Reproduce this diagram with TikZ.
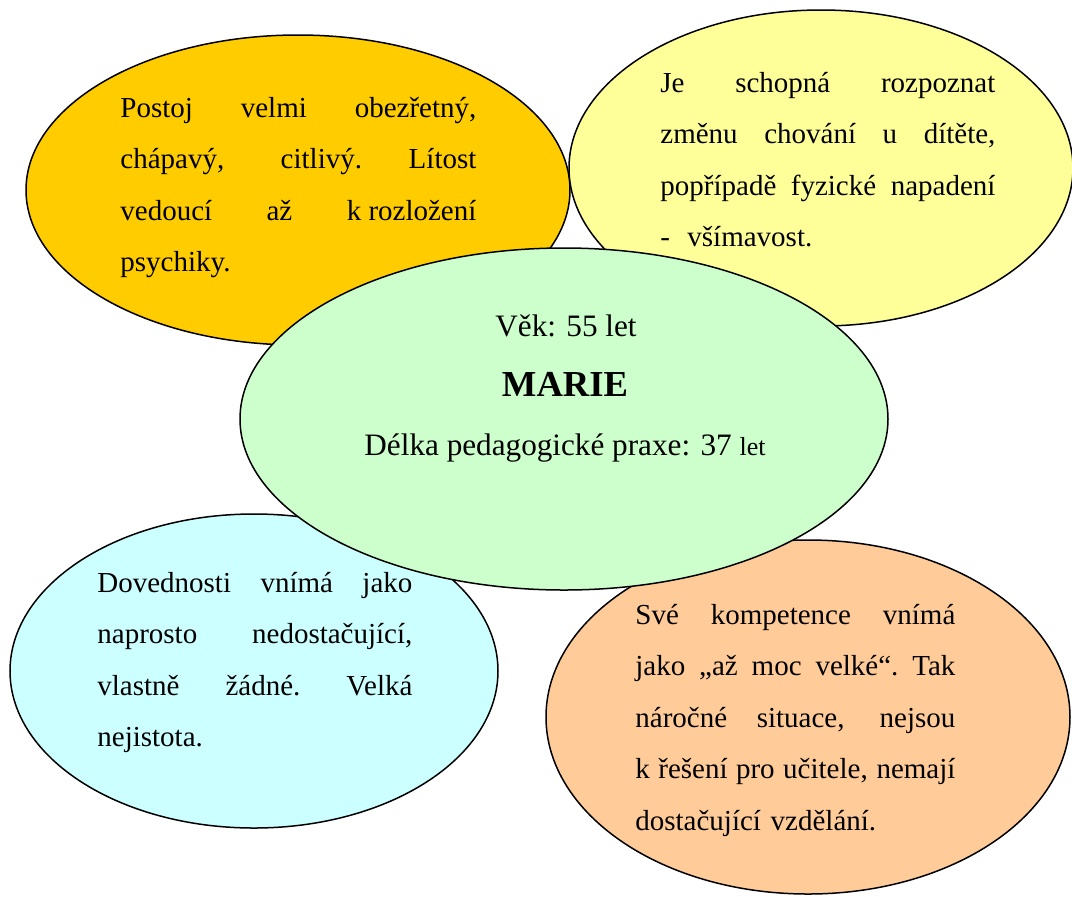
\documentclass[tikz,border=0pt]{standalone}
\usepackage{fontspec}
\setmainfont{Liberation Serif}
\usetikzlibrary{shapes.geometric}

\definecolor{postojfill}{HTML}{FFCC00}
\definecolor{schopnafill}{HTML}{FFFF99}
\definecolor{mariefill}{HTML}{CCFFCC}
\definecolor{dovednostifill}{HTML}{CCFFFF}
\definecolor{kompetencefill}{HTML}{FFCC99}

% one justified line of a bubble text
\newlength{\bubblewidth}
\newcommand{\fullline}[1]{\leavevmode\hbox to\bubblewidth{\spaceskip=0.25em plus 1fil\xspaceskip=\spaceskip #1}}

\tikzset{
	bubble/.style={ellipse, draw=black, line width=0.75pt, inner sep=0pt},
	bubbletext/.style={anchor=base west, inner sep=0pt, align=left, text width=#1,
		execute at begin node={\setlength{\bubblewidth}{#1}},
		font=\fontsize{14.5}{25.75}\selectfont},
	centertext/.style={anchor=base, inner sep=0pt, font=\fontsize{15.6}{18}\selectfont}
}

\begin{document}
\begin{tikzpicture}[x=0.5pt,y=-0.5pt]
	\useasboundingbox (0,0) rectangle (1072,896);
	% the bubbles
	\node[bubble, fill=postojfill, minimum width=272pt, minimum height=155pt] (postoj) at (298,190) {};
	\node[bubble, fill=schopnafill, minimum width=252pt, minimum height=158pt] (schopna) at (821,168) {};
	\node[bubble, fill=dovednostifill, minimum width=244pt, minimum height=157pt] (dovednosti) at (254,671) {};
	\node[bubble, fill=kompetencefill, minimum width=262pt, minimum height=177pt] (kompetence) at (808,717) {};
	\node[bubble, fill=mariefill, minimum width=324pt, minimum height=171pt] (marie) at (564,419) {};
	% the texts
	\node[bubbletext=178pt] (postojtext) at (120,117)
		{\fullline{Postoj velmi obezřetný,}\\
		\fullline{chápavý, citlivý. Lítost}\\
		\fullline{vedoucí až \mbox{k rozložení}}\\
		psychiky.};
	\node[bubbletext=167.5pt] (schopnatext) at (660,92)
		{\fullline{Je schopná rozpoznat}\\
		\fullline{změnu chování u dítěte,}\\
		\fullline{popřípadě fyzické napadení}\\
		-\hspace{0.6em}všímavost.};
	\node[bubbletext=157.5pt] (dovednostitext) at (97,592)
		{\fullline{Dovednosti vnímá jako}\\
		\fullline{naprosto nedostačující,}\\
		\fullline{vlastně žádné. Velká}\\
		nejistota.};
	\node[bubbletext=160pt] (kompetencetext) at (635,624)
		{\fullline{Své kompetence vnímá}\\
		\fullline{jako „až moc velké“. Tak}\\
		\fullline{náročné situace, nejsou}\\
		\fullline{k řešení pro učitele, nemají}\\
		dostačující vzdělání.};
	\node[centertext] (vek) at (566,336) {Věk: 55 let};
	\node[centertext, font=\fontsize{18.3}{22}\selectfont\bfseries] (jmeno) at (565,396) {MARIE};
	\node[centertext] (praxe) at (565,455) {Délka pedagogické praxe: 37 {\fontsize{13}{15}\selectfont let}};
\end{tikzpicture}
\end{document}
